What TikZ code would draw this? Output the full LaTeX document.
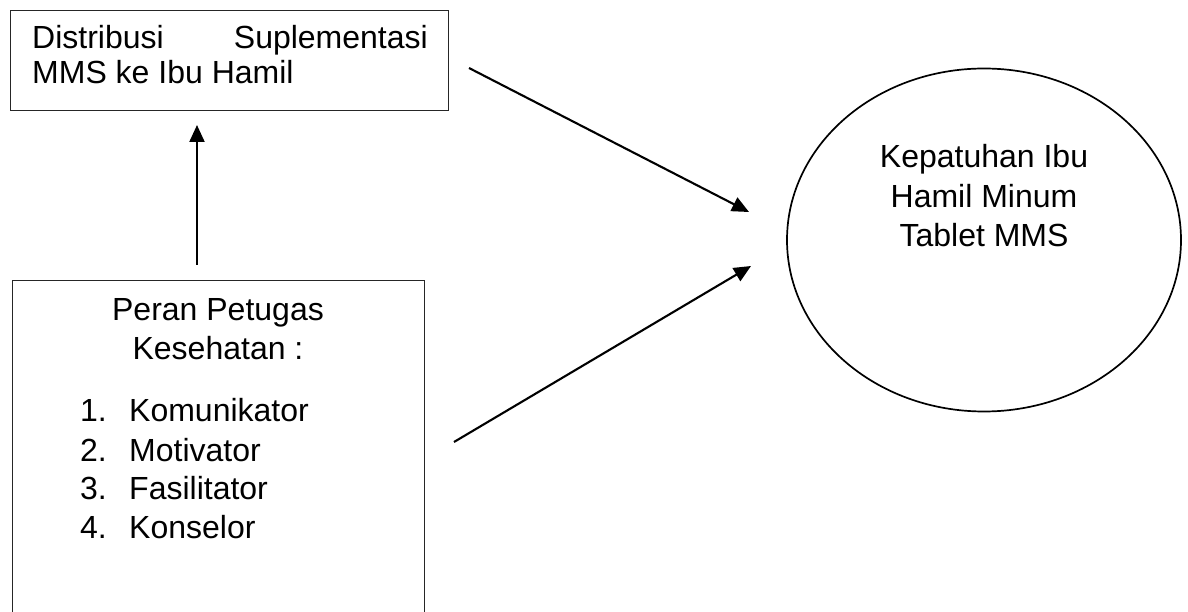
\documentclass[tikz,border=0pt]{standalone}
\usepackage{fontspec}
\setmainfont{Liberation Sans}
\usetikzlibrary{arrows.meta,shapes.geometric}
\begin{document}
\begin{tikzpicture}[x=1pt,y=-1pt,
  box/.style={draw=black!85, line width=1.3pt, inner sep=0pt, anchor=north west},
  oval/.style={draw, ellipse, line width=1.7pt, inner sep=0pt},
  txt/.style={font=\fontsize{32}{38}\selectfont, inner sep=0pt},
  arr/.style={line width=2.1pt, -{Triangle[length=17pt,width=15pt]}}]
\clip (0,0) rectangle (1188,612);
\fill[white] (0,0) rectangle (1188,612);
% boxes
\node[box, minimum width=438pt, minimum height=100pt] (dist) at (10,10) {};
\node[box, minimum width=412pt, minimum height=360pt] (peran) at (12,280) {};
\node[oval, minimum width=394pt, minimum height=343pt] (kep) at (984,240) {};
% texts
\node[txt, anchor=base west] (d1a) at (32,49) {Distribusi};
\node[txt, anchor=base east] (d1b) at (428,49) {Suplementasi};
\node[txt, anchor=base west] (d2) at (32,84) {MMS ke Ibu Hamil};
\node[txt, anchor=base] (p1) at (218,320) {Peran Petugas};
\node[txt, anchor=base] (p2) at (218,359) {Kesehatan :};
\node[txt, anchor=base west] (n1) at (80,421) {1.};
\node[txt, anchor=base west] (i1) at (129,421) {Komunikator};
\node[txt, anchor=base west] (n2) at (80,461) {2.};
\node[txt, anchor=base west] (i2) at (129,461) {Motivator};
\node[txt, anchor=base west] (n3) at (80,499) {3.};
\node[txt, anchor=base west] (i3) at (129,499) {Fasilitator};
\node[txt, anchor=base west] (n4) at (80,538) {4.};
\node[txt, anchor=base west] (i4) at (129,538) {Konselor};
\node[txt, anchor=base] (k1) at (984,168) {Kepatuhan Ibu};
\node[txt, anchor=base] (k2) at (984,208) {Hamil Minum};
\node[txt, anchor=base] (k3) at (984,247) {Tablet MMS};
% connector end points
\coordinate (vs) at (197,265);
\coordinate (ve) at (197,125);
\coordinate (a1s) at (469,68);
\coordinate (a1e) at (749,212);
\coordinate (a2s) at (454,442);
\coordinate (a2e) at (751,266);
% connectors
\draw[arr] (vs) -- (ve);
\draw[arr] (a1s) -- (a1e);
\draw[arr] (a2s) -- (a2e);
\end{tikzpicture}
\end{document}
